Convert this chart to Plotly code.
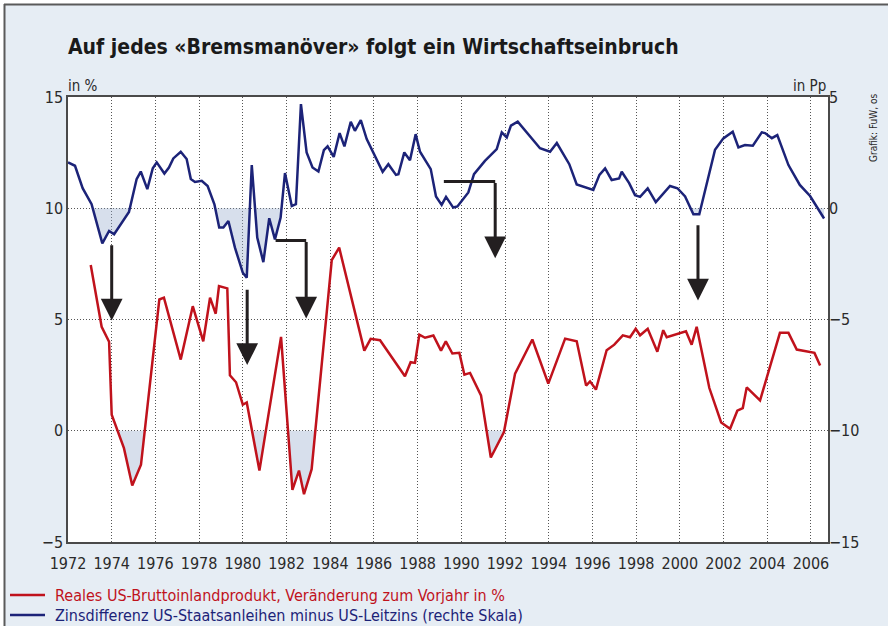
import plotly.graph_objects as go

# ---------------- data ----------------
red_years = [1973.04, 1973.54, 1973.88, 1974.00, 1974.56, 1974.94, 1975.34, 1976.18, 1976.39, 1977.16,
             1977.71, 1978.19, 1978.50, 1978.76, 1978.91, 1979.29, 1979.41, 1979.69, 1980.00, 1980.18,
             1980.76, 1981.75, 1982.27, 1982.57, 1982.80, 1983.15, 1984.07, 1984.41, 1985.56, 1985.85,
             1986.28, 1987.42, 1987.68, 1987.88, 1988.08, 1988.34, 1988.72, 1989.07, 1989.29, 1989.59,
             1989.91, 1990.14, 1990.40, 1990.90, 1991.35, 1991.95, 1992.46, 1993.25, 1993.98, 1994.75,
             1995.28, 1995.71, 1995.89, 1996.16, 1996.65, 1997.00, 1997.39, 1997.72, 1997.98, 1998.18,
             1998.53, 1998.97, 1999.24, 1999.40, 2000.28, 2000.54, 2000.77, 2001.35, 2001.89, 2002.30,
             2002.63, 2002.88, 2003.06, 2003.67, 2004.58, 2004.97, 2005.35, 2006.16, 2006.42]
red_vals = [7.45, 4.67, 4.00, 0.72, -0.78, -2.46, -1.53, 5.90, 5.98, 3.20,
            5.60, 4.02, 5.98, 5.26, 6.50, 6.40, 2.49, 2.18, 1.17, 1.27,
            -1.79, 4.22, -2.66, -1.79, -2.85, -1.73, 7.67, 8.23, 3.60, 4.13,
            4.07, 2.45, 3.08, 3.05, 4.32, 4.18, 4.28, 3.60, 4.02, 3.47,
            3.50, 2.52, 2.60, 1.59, -1.20, -0.06, 2.57, 4.10, 2.12, 4.14,
            4.02, 2.03, 2.22, 1.85, 3.62, 3.87, 4.29, 4.20, 4.58, 4.29,
            4.58, 3.55, 4.52, 4.20, 4.47, 3.87, 4.67, 1.92, 0.37, 0.09,
            0.90, 1.02, 1.95, 1.36, 4.40, 4.40, 3.65, 3.50, 2.93]

blue_years = [1972.0, 1972.32, 1972.67, 1973.08, 1973.57, 1973.88, 1974.11, 1974.79, 1975.14, 1975.33,
              1975.63, 1975.88, 1976.06, 1976.41, 1976.62, 1976.82, 1977.16, 1977.43, 1977.62, 1977.81,
              1978.12, 1978.39, 1978.70, 1978.92, 1979.11, 1979.34, 1979.64, 1980.00, 1980.18, 1980.41,
              1980.66, 1980.94, 1981.21, 1981.47, 1981.73, 1981.93, 1982.24, 1982.43, 1982.66, 1982.92,
              1983.19, 1983.46, 1983.71, 1983.88, 1984.16, 1984.43, 1984.65, 1984.94, 1985.13, 1985.40,
              1985.67, 1986.05, 1986.40, 1986.66, 1987.01, 1987.12, 1987.39, 1987.65, 1987.91, 1988.11,
              1988.60, 1988.84, 1989.10, 1989.30, 1989.63, 1989.82, 1990.32, 1990.58, 1991.08, 1991.62,
              1991.85, 1992.08, 1992.27, 1992.58, 1993.60, 1994.06, 1994.37, 1994.94, 1995.28, 1996.04,
              1996.32, 1996.58, 1996.88, 1997.22, 1997.34, 1997.68, 1997.95, 1998.18, 1998.53, 1998.90,
              1999.55, 1999.89, 2000.24, 2000.62, 2000.89, 2001.61, 2001.99, 2002.42, 2002.68, 2002.98,
              2003.34, 2003.75, 2003.90, 2004.21, 2004.46, 2004.97, 2005.49, 2005.96, 2006.60]
blue_vals = [2.06, 1.91, 0.90, 0.18, -1.58, -1.02, -1.17, -0.17, 1.31, 1.65,
             0.86, 1.80, 2.06, 1.56, 1.83, 2.24, 2.54, 2.21, 1.31, 1.18,
             1.23, 1.00, 0.18, -0.87, -0.87, -0.57, -1.77, -2.90, -3.12, 1.94,
             -1.32, -2.42, -0.45, -1.40, -0.42, 1.58, 0.10, 0.18, 4.68, 2.51,
             1.83, 1.65, 2.61, 2.78, 2.31, 3.38, 2.78, 3.89, 3.48, 3.96,
             3.11, 2.36, 1.64, 1.98, 1.50, 1.53, 2.51, 2.16, 3.33, 2.54,
             1.76, 0.53, 0.15, 0.51, 0.03, 0.08, 0.71, 1.53, 2.13, 2.66,
             3.41, 3.18, 3.71, 3.89, 2.70, 2.54, 2.93, 1.98, 1.07, 0.82,
             1.50, 1.79, 1.27, 1.34, 1.64, 1.13, 0.59, 0.51, 0.89, 0.28,
             1.00, 0.90, 0.53, -0.27, -0.27, 2.63, 3.14, 3.44, 2.73, 2.84,
             2.81, 3.41, 3.38, 3.15, 3.29, 1.94, 1.05, 0.55, -0.46]

x_ticks = list(range(1972, 2007, 2))
left_ticks = [-5, 0, 5, 10, 15]
left_labels = ["\u22125", "0", "5", "10", "15"]
right_ticks = [-15, -10, -5, 0, 5]
right_labels = ["\u221215", "\u221210", "\u22125", "0", "5"]

title_text = "Auf jedes «Bremsmanöver» folgt ein Wirtschaftseinbruch"
red_name = "Reales US-Bruttoinlandprodukt, Veränderung zum Vorjahr in %"
blue_name = "Zinsdifferenz US-Staatsanleihen minus US-Leitzins (rechte Skala)"

# arrows: x, tail value, tip value (left scale), optional elbow start x
arrows = [
    dict(x=1974.0, y0=8.4, y1=4.95, xs=None),
    dict(x=1980.2, y0=6.4, y1=2.95, xs=None),
    dict(x=1982.9, y0=8.55, y1=5.05, xs=1981.5),
    dict(x=1991.55, y0=11.2, y1=7.75, xs=1989.2),
    dict(x=2000.83, y0=9.3, y1=5.85, xs=None),
]

RED = "#c0121c"
BLUE = "#1c2378"
FILL = "rgba(150,170,205,0.38)"
GRID = "#555555"
TXT = "#2a2a2a"
BG = "#e6edf4"
FONT = "DejaVu Sans Condensed, Roboto, sans-serif"

W, H = 888, 626
ML, MR, MT, MB = 68, 60, 97, 84
PW, PH = W - ML - MR, H - MT - MB


def px(x):  # pixel -> paper x
    return (x - ML) / PW


def py(y):  # pixel -> paper y
    return (H - MB - y) / PH


def below(xs, ys, base=0.0):
    ox, oy = [], []
    for i in range(len(xs)):
        if i > 0:
            a, b = ys[i - 1] - base, ys[i] - base
            if a * b < 0:
                t = a / (a - b)
                ox.append(xs[i - 1] + t * (xs[i] - xs[i - 1]))
                oy.append(base)
        ox.append(xs[i])
        oy.append(min(ys[i], base))
    return ox, oy


fig = go.Figure()

bx, by = below(blue_years, blue_vals)
fig.add_trace(go.Scatter(x=bx, y=by, yaxis="y2", mode="lines", line=dict(width=0),
                         fill="tozeroy", fillcolor=FILL, showlegend=False, hoverinfo="skip"))
rx, ry = below(red_years, red_vals)
fig.add_trace(go.Scatter(x=rx, y=ry, mode="lines", line=dict(width=0),
                         fill="tozeroy", fillcolor=FILL, showlegend=False, hoverinfo="skip"))

fig.add_trace(go.Scatter(x=red_years, y=red_vals, mode="lines", name=red_name,
                         line=dict(color=RED, width=2.5), showlegend=False))
fig.add_trace(go.Scatter(x=blue_years, y=blue_vals, yaxis="y2", mode="lines", name=blue_name,
                         line=dict(color=BLUE, width=2.5), showlegend=False))

shapes = []
annotations = []
for a in arrows:
    if a["xs"] is not None:
        shapes.append(dict(type="line", xref="x", yref="y", x0=a["xs"], x1=a["x"],
                           y0=a["y0"], y1=a["y0"], line=dict(color="#231f20", width=3)))
    annotations.append(dict(x=a["x"], y=a["y1"], ax=a["x"], ay=a["y0"], xref="x", yref="y",
                            axref="x", ayref="y", showarrow=True, arrowhead=2, arrowsize=1.45,
                            arrowwidth=3, arrowcolor="#231f20", text=""))

# white outer strips and frame lines (top and left)
shapes.append(dict(type="rect", xref="paper", yref="paper", x0=px(0), x1=px(W), y0=py(4), y1=py(0),
                   fillcolor="white", line=dict(width=0), layer="below"))
shapes.append(dict(type="rect", xref="paper", yref="paper", x0=px(0), x1=px(4), y0=py(H), y1=py(0),
                   fillcolor="white", line=dict(width=0), layer="below"))
shapes.append(dict(type="line", xref="paper", yref="paper", x0=px(4), x1=px(W), y0=py(4.5), y1=py(4.5),
                   line=dict(color="#5a5a5a", width=2)))
shapes.append(dict(type="line", xref="paper", yref="paper", x0=px(4.5), x1=px(4.5), y0=py(H), y1=py(4),
                   line=dict(color="#5a5a5a", width=2)))

# legend (swatches + coloured labels)
for name, col, yy in [(red_name, RED, 595), (blue_name, BLUE, 615)]:
    shapes.append(dict(type="line", xref="paper", yref="paper", x0=px(10), x1=px(45),
                       y0=py(yy), y1=py(yy), line=dict(color=col, width=2.5)))
    annotations.append(dict(text=name, xref="paper", yref="paper", x=px(53), y=py(yy),
                            xanchor="left", yanchor="middle", showarrow=False,
                            font=dict(size=16, color=col, family=FONT)))

annotations += [
    dict(text=f"<b>{title_text}</b>", xref="paper", yref="paper", x=px(66), y=py(47), xanchor="left",
         yanchor="middle", showarrow=False, font=dict(size=21, color="#1a1a1a", family=FONT)),
    dict(text="in %", xref="paper", yref="paper", x=px(66), y=1.0, xanchor="left", yanchor="bottom",
         showarrow=False, font=dict(size=15, color=TXT, family=FONT)),
    dict(text="in Pp", xref="paper", yref="paper", x=1.0, y=1.0, xanchor="right", yanchor="bottom",
         showarrow=False, font=dict(size=15, color=TXT, family=FONT)),
    dict(text="Grafik: FuW, os", xref="paper", yref="paper", x=px(873), y=py(128), xanchor="center",
         yanchor="middle", textangle=-90, showarrow=False, font=dict(size=10, color=TXT, family=FONT)),
]

fig.update_layout(
    width=W, height=H,
    margin=dict(l=ML, r=MR, t=MT, b=MB, autoexpand=False),
    paper_bgcolor=BG,
    plot_bgcolor="#ffffff",
    font=dict(family=FONT, size=16, color=TXT),
    shapes=shapes,
    annotations=annotations,
    showlegend=False,
    xaxis=dict(range=[1972, 2006.78], tickvals=x_ticks, showgrid=True, gridcolor=GRID,
               griddash="1px,2px", gridwidth=1, zeroline=False, showline=True, linecolor="#4a4a4a",
               linewidth=1.5, mirror=True, ticks="", ticklabelstandoff=6,
               tickfont=dict(size=16, color=TXT)),
    yaxis=dict(range=[-5, 15], tickvals=left_ticks, ticktext=left_labels, showgrid=True,
               gridcolor=GRID, griddash="1px,2px", gridwidth=1, zeroline=False, showline=True,
               linecolor="#4a4a4a", linewidth=1.5, mirror=True, ticks="",
               tickfont=dict(size=16, color=TXT)),
    yaxis2=dict(range=[-15, 5], tickvals=right_ticks, ticktext=right_labels, overlaying="y",
                side="right", showgrid=False, zeroline=False, showline=False, ticks="",
                tickfont=dict(size=16, color=TXT)),
)

fig.write_html("out.html", config={"displayModeBar": False},
               post_script="document.body.style.margin='0';document.body.style.background='#ffffff';")
